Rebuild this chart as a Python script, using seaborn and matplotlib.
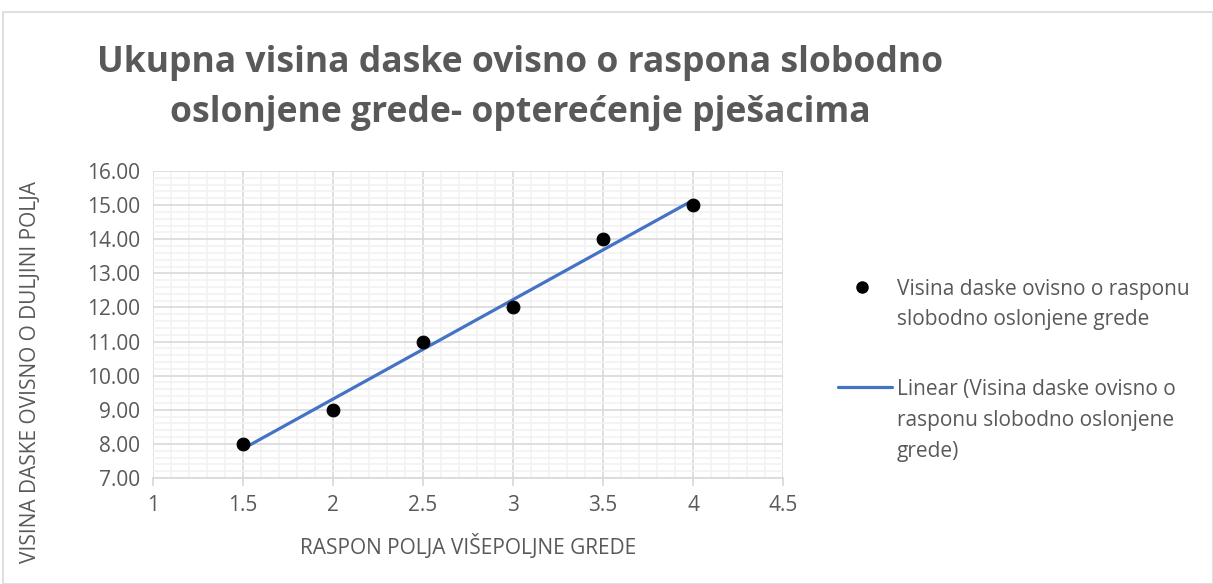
import matplotlib
matplotlib.use("Agg")
import matplotlib.pyplot as plt
import seaborn as sns
import pandas as pd
import numpy as np
from matplotlib.ticker import MultipleLocator, FormatStrFormatter, FuncFormatter
from matplotlib.lines import Line2D
from matplotlib.patches import Rectangle

raspon = [1.5, 2.0, 2.5, 3.0, 3.5, 4.0]
visina = [8, 9, 11, 12, 14, 15]
series_lines = ["Visina daske ovisno o rasponu", "slobodno oslonjene grede"]
trend_lines = ["Linear (Visina daske ovisno o", "rasponu slobodno oslonjene", "grede)"]
title = "Ukupna visina daske ovisno o raspona slobodno\noslonjene grede- opterećenje pješacima"
xlabel = "RASPON POLJA VIŠEPOLJNE GREDE"
ylabel = "VISINA DASKE OVISNO O DULJINI POLJA"

df = pd.DataFrame({"x": raspon, "y": visina})

sns.set_theme(style="white")
plt.rcParams['font.family'] = ['Open Sans', 'DejaVu Sans']

GREY = '#595959'
BLUE = '#4472C4'
W, H = 1213, 584
fig = plt.figure(figsize=(W/100, H/100), dpi=100)
L, R, T, B = 153, 783, 171, 478
ax = fig.add_axes([L/W, 1-B/H, (R-L)/W, (B-T)/H])

# border of chart area
fig.patches.append(Rectangle((3/W, 0), 1-3/W, 1-12/H, transform=fig.transFigure,
                             fill=False, edgecolor='#D9D9D9', linewidth=1.2))

sns.regplot(data=df, x="x", y="y", ax=ax, scatter=False, ci=None,
            line_kws=dict(color=BLUE, linewidth=2.3, zorder=3))
sns.scatterplot(data=df, x="x", y="y", ax=ax, color='black', s=85,
                edgecolor='black', zorder=4, legend=False)

ax.set_xlim(1, 4.5)
ax.set_ylim(7, 16)
ax.xaxis.set_major_locator(MultipleLocator(0.5))
ax.xaxis.set_minor_locator(MultipleLocator(0.1))
ax.yaxis.set_major_locator(MultipleLocator(1))
ax.yaxis.set_minor_locator(MultipleLocator(0.2))
ax.yaxis.set_major_formatter(FormatStrFormatter('%.2f'))
ax.xaxis.set_major_formatter(FuncFormatter(lambda v, p: f"{v:g}"))
ax.grid(which='major', color='#D9D9D9', linewidth=1.2)
ax.grid(which='minor', color='#F2F2F2', linewidth=1.2)
ax.set_axisbelow(True)
for s in ['top', 'right', 'left']:
    ax.spines[s].set_visible(False)
ax.spines['bottom'].set_color('#D9D9D9')
ax.spines['bottom'].set_linewidth(1.2)
ax.tick_params(axis='x', which='major', bottom=True, length=6, color='#D9D9D9',
               labelsize=15, labelcolor=GREY, pad=6)
ax.tick_params(axis='x', which='minor', bottom=False)
ax.tick_params(axis='y', which='both', left=False, labelsize=15, labelcolor=GREY, pad=3)

ax.set_xlabel(xlabel, fontsize=15, color=GREY)
ax.set_ylabel(ylabel, fontsize=15, color=GREY)
ax.xaxis.set_label_coords((468-L)/(R-L), -(534-B)/(B-T))
ax.yaxis.set_label_coords(-(L-41)/(R-L), (B-372)/(B-T))

fig.text(520/W, 1-88/H, title, ha='center', va='center', fontsize=25.6,
         fontweight='bold', color=GREY, linespacing=1.5)

# legend (Excel style: handle aligned with first text line)
tf = fig.transFigure
fig.add_artist(Line2D([862/W], [1-287/H], transform=tf, linestyle='none',
                      marker='o', color='black', markersize=8))
fig.add_artist(Line2D([838/W, 892/W], [1-387/H, 1-387/H], transform=tf,
                      color=BLUE, linewidth=2.3))
for i, t in enumerate(series_lines):
    fig.text(897/W, 1-(287+30.5*i)/H, t, ha='left', va='center_baseline',
             fontsize=15, color=GREY)
for i, t in enumerate(trend_lines):
    fig.text(897/W, 1-(387+31*i)/H, t, ha='left', va='center_baseline',
             fontsize=15, color=GREY)

fig.savefig("out.png", dpi=100)
